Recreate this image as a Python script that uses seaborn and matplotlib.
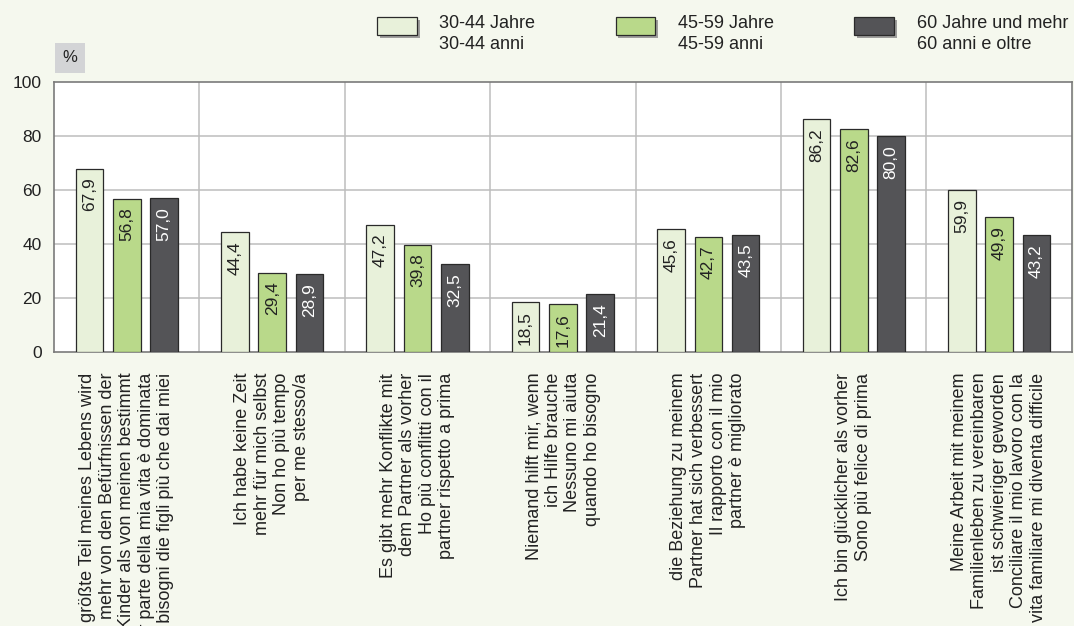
import numpy as np
import pandas as pd
import matplotlib
matplotlib.use("Agg")
import matplotlib.pyplot as plt
import matplotlib.patheffects as pe
from matplotlib.patches import Patch, Rectangle
from matplotlib.legend_handler import HandlerPatch
import seaborn as sns

CATEGORIES = [
    "Der größte Teil meines Lebens wird\nmehr von den Befürfnissen der\nKinder als von meinen bestimmt\nLa maggior parte della mia vita è dominata\ndai bisogni die figli più che dai miei",
    "Ich habe keine Zeit\nmehr für mich selbst\nNon ho più tempo\nper me stesso/a",
    "Es gibt mehr Konflikte mit\ndem Partner als vorher\nHo più conflitti con il\npartner rispetto a prima",
    "Niemand hilft mir, wenn\nich Hilfe brauche\nNessuno mi aiuta\nquando ho bisogno",
    "die Beziehung zu meinem\nPartner hat sich verbessert\nIl rapporto con il mio\npartner è migliorato",
    "Ich bin glücklicher als vorher\nSono più felice di prima",
    "Meine Arbeit mit meinem\nFamilienleben zu vereinbaren\nist schwieriger geworden\nConciliare il mio lavoro con la\nvita familiare mi diventa difficile",
]
GROUPS = ["30-44 Jahre\n30-44 anni", "45-59 Jahre\n45-59 anni", "60 Jahre und mehr\n60 anni e oltre"]
VALS_30_44 = [67.9, 44.4, 47.2, 18.5, 45.6, 86.2, 59.9]
VALS_45_59 = [56.8, 29.4, 39.8, 17.6, 42.7, 82.6, 49.9]
VALS_60 = [57.0, 28.9, 32.5, 21.4, 43.5, 80.0, 43.2]
Y_TICKS = [0, 20, 40, 60, 80, 100]

COLORS = ["#E8F1DA", "#B9D98A", "#545457"]
BG = "#F5F8EE"
GRID = "#BDBDBD"
TXT = "#222222"

df = pd.DataFrame({
    "cat": CATEGORIES * 3,
    "grp": [GROUPS[0]] * 7 + [GROUPS[1]] * 7 + [GROUPS[2]] * 7,
    "val": VALS_30_44 + VALS_45_59 + VALS_60,
})

sns.set_theme(style="white")
plt.rcParams["font.family"] = ["Liberation Sans", "DejaVu Sans"]

fig = plt.figure(figsize=(10.74, 6.26), dpi=100, facecolor=BG)
ax = fig.add_axes([0.0503, 0.4377, 0.9477, 0.4313])
ax.set_facecolor("white")

sns.barplot(data=df, x="cat", y="val", hue="grp", hue_order=GROUPS,
            palette=COLORS, width=0.77, gap=0.26, edgecolor="#2a2a2a",
            linewidth=0.9, saturation=1, legend=False, ax=ax, zorder=3)

ax.set_xlim(-0.5, len(CATEGORIES) - 0.5)
ax.set_ylim(0, 100)
ax.set_yticks(Y_TICKS)
ax.set_yticklabels([str(t) for t in Y_TICKS], fontsize=12.5, color=TXT)
ax.set_xlabel("")
ax.set_ylabel("")
ax.set_xticks(range(len(CATEGORIES)))
ax.set_xticklabels(CATEGORIES, rotation=90, ma="right", fontsize=13,
                   color=TXT, linespacing=1.2)
ax.tick_params(axis="x", length=0, pad=15)
ax.tick_params(axis="y", length=0, pad=9)

for t in Y_TICKS[1:-1]:
    ax.axhline(t, color=GRID, lw=1.1, zorder=1)
for i in range(len(CATEGORIES) - 1):
    ax.axvline(i + 0.5, color=GRID, lw=1.1, zorder=1)
for s in ax.spines.values():
    s.set_color("#7a7a7a")
    s.set_linewidth(1.2)

# value labels inside top of each bar
for k, cont in enumerate(ax.containers):
    col = "white" if k == 2 else TXT
    for bar in cont:
        h = bar.get_height()
        ax.annotate(f"{h:.1f}".replace(".", ","),
                    xy=(bar.get_x() + bar.get_width() / 2, h),
                    xytext=(0, -6.5), textcoords="offset points",
                    rotation=90, ha="center", va="top",
                    fontsize=12.5, color=col, zorder=4)

# "%" unit box
fig.text(70 / 1074, 1 - 58 / 626, "%", ha="center", va="center",
         fontsize=12, color=TXT,
         bbox=dict(boxstyle="square,pad=0.45", fc="#D3D4D6", ec="none"))


# legend boxes sit level with the first text line
def raised_box(legend, orig_handle, xdescent, ydescent, width, height, fontsize):
    return Rectangle((-xdescent, -ydescent + 6), width, height)


shadow = [pe.SimplePatchShadow(offset=(2, -2), shadow_rgbFace="#888888", alpha=0.8), pe.Normal()]
handles = [Patch(facecolor=c, edgecolor="#2a2a2a", linewidth=0.9, path_effects=shadow)
           for c in COLORS]
leg = fig.legend(handles, GROUPS, loc="upper left", bbox_to_anchor=(377 / 1074, 1 - 15 / 626),
                 ncol=3, frameon=False, fontsize=13, handlelength=2.2, handleheight=1.15,
                 handletextpad=1.25, columnspacing=4.45, borderpad=0, borderaxespad=0,
                 labelcolor=TXT,
                 handler_map={Patch: HandlerPatch(patch_func=raised_box)})
for t in leg.get_texts():
    t.set_linespacing(1.3)

fig.savefig("out.png", dpi=100, facecolor=BG)
